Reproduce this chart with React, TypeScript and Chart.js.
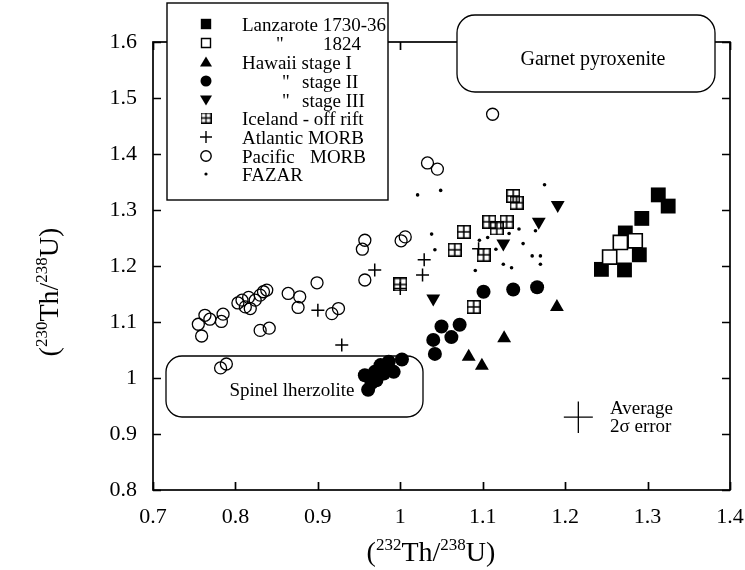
import React, { useEffect, useRef } from 'react';
import { Chart, registerables } from 'chart.js';

Chart.register(...registerables);

// ---------- data ----------
const X_TICKS = [0.7, 0.8, 0.9, 1.0, 1.1, 1.2, 1.3, 1.4];
const X_TICK_LABELS = ['0.7', '0.8', '0.9', '1', '1.1', '1.2', '1.3', '1.4'];
const Y_TICKS = [0.8, 0.9, 1.0, 1.1, 1.2, 1.3, 1.4, 1.5, 1.6];
const Y_TICK_LABELS = ['0.8', '0.9', '1', '1.1', '1.2', '1.3', '1.4', '1.5', '1.6'];

const lanzarote1730 = [[1.313, 1.327], [1.325, 1.307], [1.293, 1.285], [1.273, 1.259], [1.290, 1.220], [1.244, 1.194], [1.272, 1.193]];
const lanzarote1824 = [[1.267, 1.242], [1.285, 1.245], [1.254, 1.216]];
const hawaiiI = [[1.083, 1.038], [1.099, 1.022], [1.126, 1.071], [1.190, 1.127]];
const hawaiiII = [[0.957, 1.005], [0.961, 0.979], [0.965, 0.991], [0.969, 1.011], [0.971, 0.996], [0.976, 1.023], [0.980, 1.008], [0.986, 1.029], [0.992, 1.011], [1.002, 1.033], [1.040, 1.068], [1.042, 1.043], [1.050, 1.092], [1.062, 1.073], [1.072, 1.095], [1.101, 1.154], [1.137, 1.158], [1.166, 1.162]];
const hawaiiIII = [[1.040, 1.142], [1.125, 1.240], [1.168, 1.279], [1.191, 1.309]];
const icelandOffRift = [[1.000, 1.167], [1.066, 1.229], [1.077, 1.261], [1.089, 1.127], [1.101, 1.220], [1.108, 1.279], [1.117, 1.267], [1.129, 1.279], [1.137, 1.325], [1.141, 1.313]];
const atlanticMORB = [[0.900, 1.121], [0.929, 1.059], [0.969, 1.193], [1.000, 1.160], [1.027, 1.184], [1.029, 1.211], [1.095, 1.231]];
const pacificMORB = [[0.755, 1.096], [0.759, 1.075], [0.763, 1.112], [0.769, 1.105], [0.783, 1.101], [0.785, 1.114], [0.782, 1.018], [0.789, 1.025], [0.803, 1.134], [0.808, 1.139], [0.812, 1.127], [0.816, 1.144], [0.818, 1.124], [0.824, 1.139], [0.830, 1.148], [0.834, 1.154], [0.838, 1.157], [0.830, 1.085], [0.841, 1.089], [0.864, 1.151], [0.876, 1.126], [0.878, 1.145], [0.899, 1.170], [0.917, 1.115], [0.925, 1.124], [0.954, 1.230], [0.957, 1.246], [0.957, 1.175], [1.001, 1.245], [1.006, 1.252], [1.033, 1.384], [1.045, 1.373], [1.112, 1.471]];
const fazar = [[1.021, 1.327], [1.049, 1.335], [1.038, 1.257], [1.042, 1.229], [1.091, 1.192], [1.096, 1.246], [1.106, 1.251], [1.116, 1.230], [1.125, 1.203], [1.132, 1.258], [1.135, 1.197], [1.144, 1.266], [1.149, 1.240], [1.160, 1.218], [1.164, 1.263], [1.170, 1.218], [1.170, 1.203], [1.175, 1.345]];

const AVG_ERROR_CENTER = [1.216, 0.930];
const AVG_ERROR = [0.0176, 0.028];

const LEGEND_ROWS: string[][] = [
  ['Lanzarote 1730-36'],
  ['"', '1824'],
  ['Hawaii stage I'],
  ['"', 'stage II'],
  ['"', 'stage III'],
  ['Iceland - off rift'],
  ['Atlantic MORB'],
  ['Pacific', 'MORB'],
  ['FAZAR'],
];
const LEGEND_MARKERS = ['fsq', 'osq', 'tri', 'circ', 'dtri', 'ice', 'plus', 'ocirc', 'dot'];

const FONT = '"Liberation Serif", "DejaVu Serif", serif';

const pts = (a: number[][]) => a.map(([x, y]) => ({ x, y }));

function makeIceMarker(s: number, lw: number) {
  const c = document.createElement('canvas');
  c.width = s; c.height = s;
  const g = c.getContext('2d')!;
  g.strokeStyle = '#000';
  g.lineWidth = lw;
  const o = lw / 2;
  g.strokeRect(o, o, s - lw, s - lw);
  g.beginPath();
  g.moveTo(s / 2, o); g.lineTo(s / 2, s - o);
  g.moveTo(o, s / 2); g.lineTo(s - o, s / 2);
  g.stroke();
  return c;
}

function drawMarker(ctx: CanvasRenderingContext2D, kind: string, x: number, y: number, ice: HTMLCanvasElement) {
  ctx.save();
  ctx.fillStyle = '#000';
  ctx.strokeStyle = '#000';
  ctx.lineWidth = 1.4;
  const h = 5.2;
  ctx.beginPath();
  switch (kind) {
    case 'fsq': ctx.rect(x - h, y - h, 2 * h, 2 * h); ctx.fill(); break;
    case 'osq': ctx.rect(x - h + 0.7, y - h + 0.7, 2 * h - 1.4, 2 * h - 1.4); ctx.stroke(); break;
    case 'tri': ctx.moveTo(x, y - 5.5); ctx.lineTo(x + 6, y + 4.5); ctx.lineTo(x - 6, y + 4.5); ctx.closePath(); ctx.fill(); break;
    case 'dtri': ctx.moveTo(x, y + 5.5); ctx.lineTo(x + 6, y - 4.5); ctx.lineTo(x - 6, y - 4.5); ctx.closePath(); ctx.fill(); break;
    case 'circ': ctx.arc(x, y, 5.5, 0, Math.PI * 2); ctx.fill(); break;
    case 'ocirc': ctx.arc(x, y, 5.2, 0, Math.PI * 2); ctx.stroke(); break;
    case 'plus': ctx.moveTo(x - 6, y); ctx.lineTo(x + 6, y); ctx.moveTo(x, y - 6); ctx.lineTo(x, y + 6); ctx.stroke(); break;
    case 'dot': ctx.arc(x, y, 1.6, 0, Math.PI * 2); ctx.fill(); break;
    case 'ice': ctx.drawImage(ice, x - ice.width / 2, y - ice.height / 2); break;
  }
  ctx.restore();
}

function roundRect(ctx: CanvasRenderingContext2D, x: number, y: number, w: number, h: number, r: number) {
  ctx.beginPath();
  ctx.moveTo(x + r, y);
  ctx.lineTo(x + w - r, y);
  ctx.arcTo(x + w, y, x + w, y + r, r);
  ctx.lineTo(x + w, y + h - r);
  ctx.arcTo(x + w, y + h, x + w - r, y + h, r);
  ctx.lineTo(x + r, y + h);
  ctx.arcTo(x, y + h, x, y + h - r, r);
  ctx.lineTo(x, y + r);
  ctx.arcTo(x, y, x + r, y, r);
  ctx.closePath();
}

// parts: [text, isSup]
function drawSupText(ctx: CanvasRenderingContext2D, parts: [string, boolean][], cx: number, baseY: number, size: number, supSize: number, rise: number) {
  const big = `${size}px ${FONT}`;
  const small = `${supSize}px ${FONT}`;
  let total = 0;
  for (const [t, s] of parts) { ctx.font = s ? small : big; total += ctx.measureText(t).width; }
  let x = cx - total / 2;
  ctx.textBaseline = 'alphabetic';
  ctx.textAlign = 'left';
  for (const [t, s] of parts) {
    ctx.font = s ? small : big;
    ctx.fillText(t, x, s ? baseY - rise : baseY);
    x += ctx.measureText(t).width;
  }
}

const overlayPlugin = {
  id: 'overlay',
  beforeDatasetsDraw(chart: any) {
    const { ctx, chartArea: a, scales } = chart;
    const xs = scales.x, ys = scales.y;
    ctx.save();
    // Spinel lherzolite box
    ctx.strokeStyle = '#000';
    ctx.lineWidth = 1.3;
    roundRect(ctx, 166, 356, 257, 61, 16);
    ctx.stroke();
    ctx.fillStyle = '#000';
    ctx.font = `19px ${FONT}`;
    ctx.textAlign = 'center';
    ctx.textBaseline = 'alphabetic';
    ctx.fillText('Spinel lherzolite', 292, 396);
    // frame
    ctx.lineWidth = 1.7;
    ctx.strokeRect(a.left, a.top, a.right - a.left, a.bottom - a.top);
    const tl = 8;
    ctx.beginPath();
    for (const v of X_TICKS) {
      const px = Math.round(xs.getPixelForValue(v)) + 0.5;
      ctx.moveTo(px, a.bottom); ctx.lineTo(px, a.bottom - tl);
      ctx.moveTo(px, a.top); ctx.lineTo(px, a.top + tl);
    }
    for (const v of Y_TICKS) {
      const py = Math.round(ys.getPixelForValue(v)) + 0.5;
      ctx.moveTo(a.left, py); ctx.lineTo(a.left + tl, py);
      ctx.moveTo(a.right, py); ctx.lineTo(a.right - tl, py);
    }
    ctx.stroke();
    ctx.restore();
  },
  afterDatasetsDraw(chart: any) {
    const { ctx, scales } = chart;
    const xs = scales.x, ys = scales.y;
    const ice = chart.$iceLegend as HTMLCanvasElement;
    ctx.save();
    // legend box
    ctx.fillStyle = '#fff';
    ctx.fillRect(167, 3, 221, 197);
    ctx.strokeStyle = '#000';
    ctx.lineWidth = 1.4;
    ctx.strokeRect(167, 3, 221, 197);
    const rowY = [24, 43, 62, 81, 100, 118, 137, 156, 174];
    ctx.fillStyle = '#000';
    ctx.font = `19px ${FONT}`;
    ctx.textBaseline = 'alphabetic';
    ctx.textAlign = 'left';
    LEGEND_ROWS.forEach((row, i) => {
      const y = rowY[i];
      drawMarker(ctx, LEGEND_MARKERS[i], 206, y, ice);
      ctx.fillStyle = '#000';
      ctx.font = `19px ${FONT}`;
      const by = y + 6.5;
      if (row.length === 1) {
        ctx.fillText(row[0], 242, by);
      } else if (i === 1) {
        ctx.fillText(row[0], 276, by);
        ctx.fillText(row[1], 323, by);
      } else if (i === 3 || i === 4) {
        ctx.fillText(row[0], 282, by);
        ctx.fillText(row[1], 302, by);
      } else {
        ctx.fillText(row[0], 242, by);
        ctx.fillText(row[1], 310, by);
      }
    });
    // Garnet pyroxenite box
    ctx.fillStyle = '#fff';
    roundRect(ctx, 457, 15, 258, 77, 18);
    ctx.fill();
    ctx.lineWidth = 1.3;
    ctx.stroke();
    ctx.fillStyle = '#000';
    ctx.font = `20px ${FONT}`;
    ctx.textAlign = 'center';
    ctx.fillText('Garnet pyroxenite', 593, 65);
    // average error cross
    const cx = xs.getPixelForValue(AVG_ERROR_CENTER[0]);
    const cy = ys.getPixelForValue(AVG_ERROR_CENTER[1]);
    const x1 = xs.getPixelForValue(AVG_ERROR_CENTER[0] - AVG_ERROR[0]);
    const x2 = xs.getPixelForValue(AVG_ERROR_CENTER[0] + AVG_ERROR[0]);
    const y1 = ys.getPixelForValue(AVG_ERROR_CENTER[1] - AVG_ERROR[1]);
    const y2 = ys.getPixelForValue(AVG_ERROR_CENTER[1] + AVG_ERROR[1]);
    ctx.strokeStyle = '#000';
    ctx.lineWidth = 1.3;
    ctx.beginPath();
    ctx.moveTo(x1, cy); ctx.lineTo(x2, cy);
    ctx.moveTo(cx, y1); ctx.lineTo(cx, y2);
    ctx.stroke();
    ctx.font = `19px ${FONT}`;
    ctx.textAlign = 'left';
    ctx.fillText('Average', 610, 414);
    ctx.fillText('2σ error', 610, 432);
    // axis titles
    ctx.fillStyle = '#000';
    drawSupText(ctx, [['(', false], ['232', true], ['Th/', false], ['238', true], ['U)', false]], 431, 561, 28, 17, 11);
    ctx.save();
    ctx.translate(58, 292);
    ctx.rotate(-Math.PI / 2);
    drawSupText(ctx, [['(', false], ['230', true], ['Th/', false], ['238', true], ['U)', false]], 0, 0, 28, 17, 11);
    ctx.restore();
    ctx.restore();
  },
};

export default function App() {
  const ref = useRef<HTMLCanvasElement>(null);
  useEffect(() => {
    document.body.style.margin = '0';
    const iceData = makeIceMarker(14, 1.6);
    const iceLegend = makeIceMarker(11, 1.3);
    const base = { showLine: false, borderColor: '#000', backgroundColor: '#000', order: 1 };
    const chart: any = new Chart(ref.current!, {
      type: 'scatter',
      data: {
        datasets: [
          { ...base, label: 'Lanzarote 1730-36', data: pts(lanzarote1730), pointStyle: 'rect', pointRadius: 10.5, borderWidth: 0 },
          { ...base, label: '1824', data: pts(lanzarote1824), pointStyle: 'rect', pointRadius: 10, backgroundColor: '#fff', borderWidth: 1.6, order: 0 },
          { ...base, label: 'Hawaii stage I', data: pts(hawaiiI), pointStyle: 'triangle', pointRadius: 8, borderWidth: 0 },
          { ...base, label: 'stage II', data: pts(hawaiiII), pointStyle: 'circle', pointRadius: 7, borderWidth: 0 },
          { ...base, label: 'stage III', data: pts(hawaiiIII), pointStyle: 'triangle', rotation: 180, pointRadius: 8, borderWidth: 0 },
          { ...base, label: 'Iceland - off rift', data: pts(icelandOffRift), pointStyle: iceData as any, pointRadius: 7 },
          { ...base, label: 'Atlantic MORB', data: pts(atlanticMORB), pointStyle: 'cross', pointRadius: 6.5, borderWidth: 1.5 },
          { ...base, label: 'Pacific MORB', data: pts(pacificMORB), pointStyle: 'circle', pointRadius: 6, backgroundColor: 'rgba(0,0,0,0)', borderWidth: 1.3 },
          { ...base, label: 'FAZAR', data: pts(fazar), pointStyle: 'circle', pointRadius: 1.8, borderWidth: 0 },
        ] as any,
      },
      options: {
        responsive: false,
        animation: false,
        events: [],
        layout: { padding: { left: 0, right: 15, top: 42, bottom: 0 } },
        plugins: { legend: { display: false }, tooltip: { enabled: false }, title: { display: false } },
        scales: {
          x: {
            type: 'linear', min: 0.7, max: 1.4,
            grid: { display: false, drawTicks: false },
            border: { display: false },
            ticks: {
              color: '#000', font: { family: FONT, size: 22 }, padding: 14, maxRotation: 0,
              callback: (_v: any, i: number) => X_TICK_LABELS[i],
            },
            afterBuildTicks: (s: any) => { s.ticks = X_TICKS.map((v) => ({ value: v })); },
            afterFit: (s: any) => { s.height = 80; s.paddingLeft = 0; s.paddingRight = 0; },
          },
          y: {
            type: 'linear', min: 0.8, max: 1.6,
            grid: { display: false, drawTicks: false },
            border: { display: false },
            ticks: {
              color: '#000', font: { family: FONT, size: 22 }, padding: 16,
              callback: (_v: any, i: number) => Y_TICK_LABELS[i],
            },
            afterBuildTicks: (s: any) => { s.ticks = Y_TICKS.map((v) => ({ value: v })); },
            afterFit: (s: any) => { s.width = 153; s.paddingTop = 0; s.paddingBottom = 0; },
          },
        },
      } as any,
      plugins: [
        { id: 'iceRef', beforeInit(c: any) { c.$iceLegend = iceLegend; } },
        overlayPlugin,
      ],
    });
    return () => chart.destroy();
  }, []);
  return <canvas ref={ref} width={745} height={570} style={{ display: 'block' }} />;
}
